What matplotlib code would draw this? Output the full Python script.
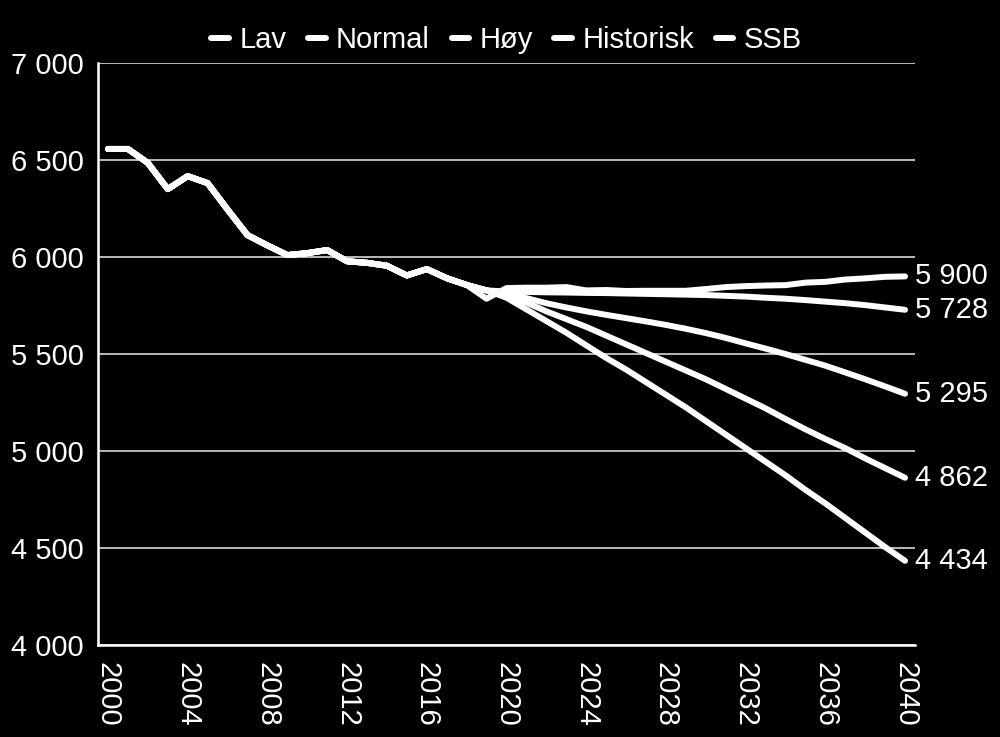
import matplotlib.pyplot as plt
import numpy as np

plt.rcParams['font.family'] = ['Liberation Sans', 'DejaVu Sans']

# shared history 2000-2018
hist_years = list(range(2000, 2019))
hist = [6557, 6557, 6485, 6350, 6417, 6381, 6245, 6113, 6060, 6010,
        6020, 6036, 5978, 5970, 5955, 5905, 5938, 5891, 5856]

proj_years = list(range(2019, 2041))
lav = [5828, 5790, 5730, 5670, 5610, 5545, 5480, 5420, 5355, 5290, 5225,
       5155, 5085, 5015, 4945, 4875, 4800, 4730, 4655, 4580, 4505, 4434]
normal = [5828, 5805, 5765, 5720, 5680, 5640, 5595, 5550, 5505, 5460, 5415,
          5370, 5320, 5270, 5220, 5165, 5112, 5062, 5015, 4962, 4912, 4862]
hoy = [5828, 5812, 5788, 5762, 5740, 5720, 5702, 5685, 5668, 5650, 5630,
       5608, 5583, 5555, 5528, 5500, 5470, 5440, 5405, 5370, 5333, 5295]
historisk = [5828, 5822, 5820, 5818, 5817, 5815, 5814, 5812, 5810, 5808, 5806,
             5804, 5800, 5796, 5790, 5785, 5778, 5770, 5762, 5752, 5740, 5728]
ssb = [5785, 5840, 5842, 5842, 5845, 5828, 5830, 5825, 5826, 5826, 5826,
       5835, 5845, 5850, 5853, 5855, 5868, 5872, 5884, 5890, 5898, 5900]

names = ['Lav', 'Normal', 'Høy', 'Historisk', 'SSB']
series = [lav, normal, hoy, historisk, ssb]
end_labels = ['4 434', '4 862', '5 295', '5 728', '5 900']

fig = plt.figure(figsize=(10, 7.37), dpi=100)
fig.patch.set_facecolor('black')
ax = fig.add_axes([0.098, 0.1248, 0.817, 0.7897])
ax.set_facecolor('black')

years = hist_years + proj_years
for name, vals, lab in zip(names, series, end_labels):
    ax.plot(years, hist + vals, color='white', lw=4.3,
            solid_capstyle='round', solid_joinstyle='round', label=name)
    ax.annotate(lab, (years[-1], vals[-1]), xytext=(7, 0),
                textcoords='offset points', va='center', ha='left',
                color='white', fontsize=21, annotation_clip=False)

ax.set_xlim(1999.5, 2040.5)
ax.set_ylim(4000, 7000)
ax.set_yticks(np.arange(4000, 7001, 500))
ax.set_yticklabels([f'{v:,}'.replace(',', ' ') for v in range(4000, 7001, 500)])
ax.set_xticks(range(2000, 2041, 4))
ax.tick_params(axis='x', labelrotation=270, pad=12)
ax.tick_params(colors='white', labelsize=21, length=0)
ax.tick_params(axis='y', pad=10)

ax.grid(axis='y', color='#d9d9d9', lw=1.2)
ax.set_axisbelow(True)
for side in ['top', 'right']:
    ax.spines[side].set_visible(False)
for side in ['left', 'bottom']:
    ax.spines[side].set_color('white')
    ax.spines[side].set_linewidth(1.8)

leg = ax.legend(loc='lower center', bbox_to_anchor=(0.5, 0.995), ncol=5,
                frameon=False, fontsize=21, handlelength=0.6,
                handletextpad=0.35, columnspacing=0.75, borderaxespad=0.0)
for t in leg.get_texts():
    t.set_color('white')

fig.savefig('out.png', dpi=100, facecolor='black')
